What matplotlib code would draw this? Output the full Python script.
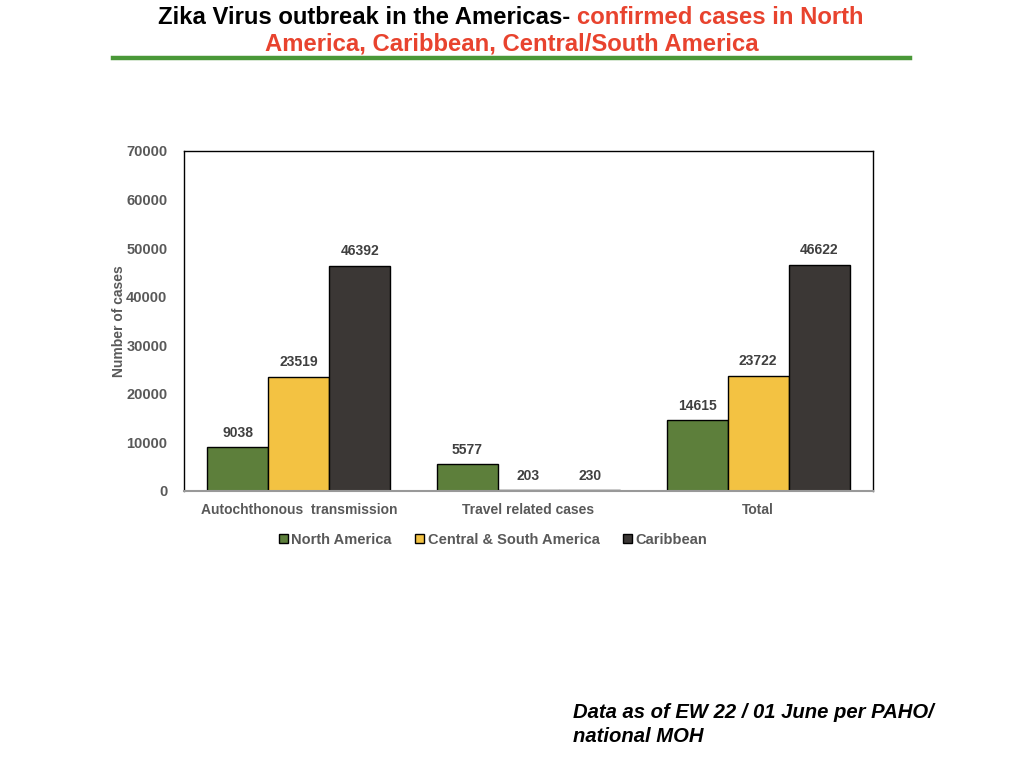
import matplotlib
matplotlib.use("Agg")
import matplotlib.pyplot as plt
import numpy as np
from matplotlib.lines import Line2D
from matplotlib.patches import Patch

plt.rcParams['font.family'] = ['Liberation Sans', 'DejaVu Sans']

categories = ["Autochthonous  transmission", "Travel related cases", "Total"]
series_names = ["North America", "Central & South America", "Caribbean"]
north_america = [9038, 5577, 14615]
central_south = [23519, 203, 23722]
caribbean = [46392, 230, 46622]
colors = ["#5d7f3b", "#f3c242", "#3b3735"]
yticks = [0, 10000, 20000, 30000, 40000, 50000, 60000, 70000]

W, H = 1024, 768
fig = plt.figure(figsize=(W/100, H/100), dpi=100)
ax = fig.add_axes([184/W, 1-491/H, (873-184)/W, (491-151)/H])

x = np.arange(len(categories))
bw = 0.266
gray = "#595959"
for i, (vals, col) in enumerate(zip([north_america, central_south, caribbean], colors)):
    pos = x + (i-1)*bw
    ax.bar(pos, vals, bw, color=col, edgecolor="black", linewidth=1.0, zorder=2)
    for p, v in zip(pos, vals):
        ax.text(p, v + 1500, f"{v}", ha="center", va="bottom", fontsize=10,
                fontweight="bold", color="#404040")

ax.set_xlim(-0.5, 2.5)
ax.set_ylim(0, 70000)
ax.set_yticks(yticks)
ax.set_yticklabels([str(t) for t in yticks], fontsize=10.5, fontweight="bold", color=gray)
ax.set_xticks(x)
ax.set_xticklabels(categories, fontsize=10, fontweight="bold", color=gray)
ax.tick_params(axis="both", length=0)
ax.tick_params(axis="y", pad=12)
ax.tick_params(axis="x", pad=9)
for s in ["top", "right", "left"]:
    ax.spines[s].set_color("black")
    ax.spines[s].set_linewidth(1.0)
ax.spines["bottom"].set_color("#999999")
ax.spines["bottom"].set_linewidth(1.5)
ax.set_ylabel("Number of cases", fontsize=10, fontweight="bold", color=gray, labelpad=0)

handles = [Patch(facecolor=c, edgecolor="black", linewidth=1.0) for c in colors]
leg = fig.legend(handles, series_names, loc="center", bbox_to_anchor=(493/W, 1-540/H),
                 ncol=3, frameon=False, handlelength=0.6, handleheight=0.6,
                 handletextpad=0.25, columnspacing=1.6,
                 prop={"size": 10.5, "weight": "bold"})
for t in leg.get_texts():
    t.set_color(gray)

# Title with mixed colours
red = "#e8432e"
fs = 17.2
renderer = fig.canvas.get_renderer()
t1a = fig.text(0, 0, "Zika Virus outbreak in the Americas- ", fontsize=fs, fontweight="bold", color="black")
t1b = fig.text(0, 0, "confirmed cases in North", fontsize=fs, fontweight="bold", color=red)
wa = t1a.get_window_extent(renderer).width
wb = t1b.get_window_extent(renderer).width
total = wa + wb
x0 = 511 - total/2
y1 = 1 - 17/H
t1a.set_position((x0/W, y1)); t1a.set_va("center")
t1b.set_position(((x0+wa)/W, y1)); t1b.set_va("center")
fig.text(512/W, 1-44/H, "America, Caribbean, Central/South America", fontsize=fs,
         fontweight="bold", color=red, ha="center", va="center")
fig.add_artist(Line2D([113/W, 910/W], [1-58/H, 1-58/H], color="#4a9838", linewidth=3.2))

fig.text(573/W, 1-713/H, "Data as of EW 22 / 01 June per PAHO/", fontsize=14.6,
         fontweight="bold", style="italic", color="black", ha="left", va="center")
fig.text(573/W, 1-737/H, "national MOH", fontsize=14.6,
         fontweight="bold", style="italic", color="black", ha="left", va="center")

fig.savefig("out.png", dpi=100)
